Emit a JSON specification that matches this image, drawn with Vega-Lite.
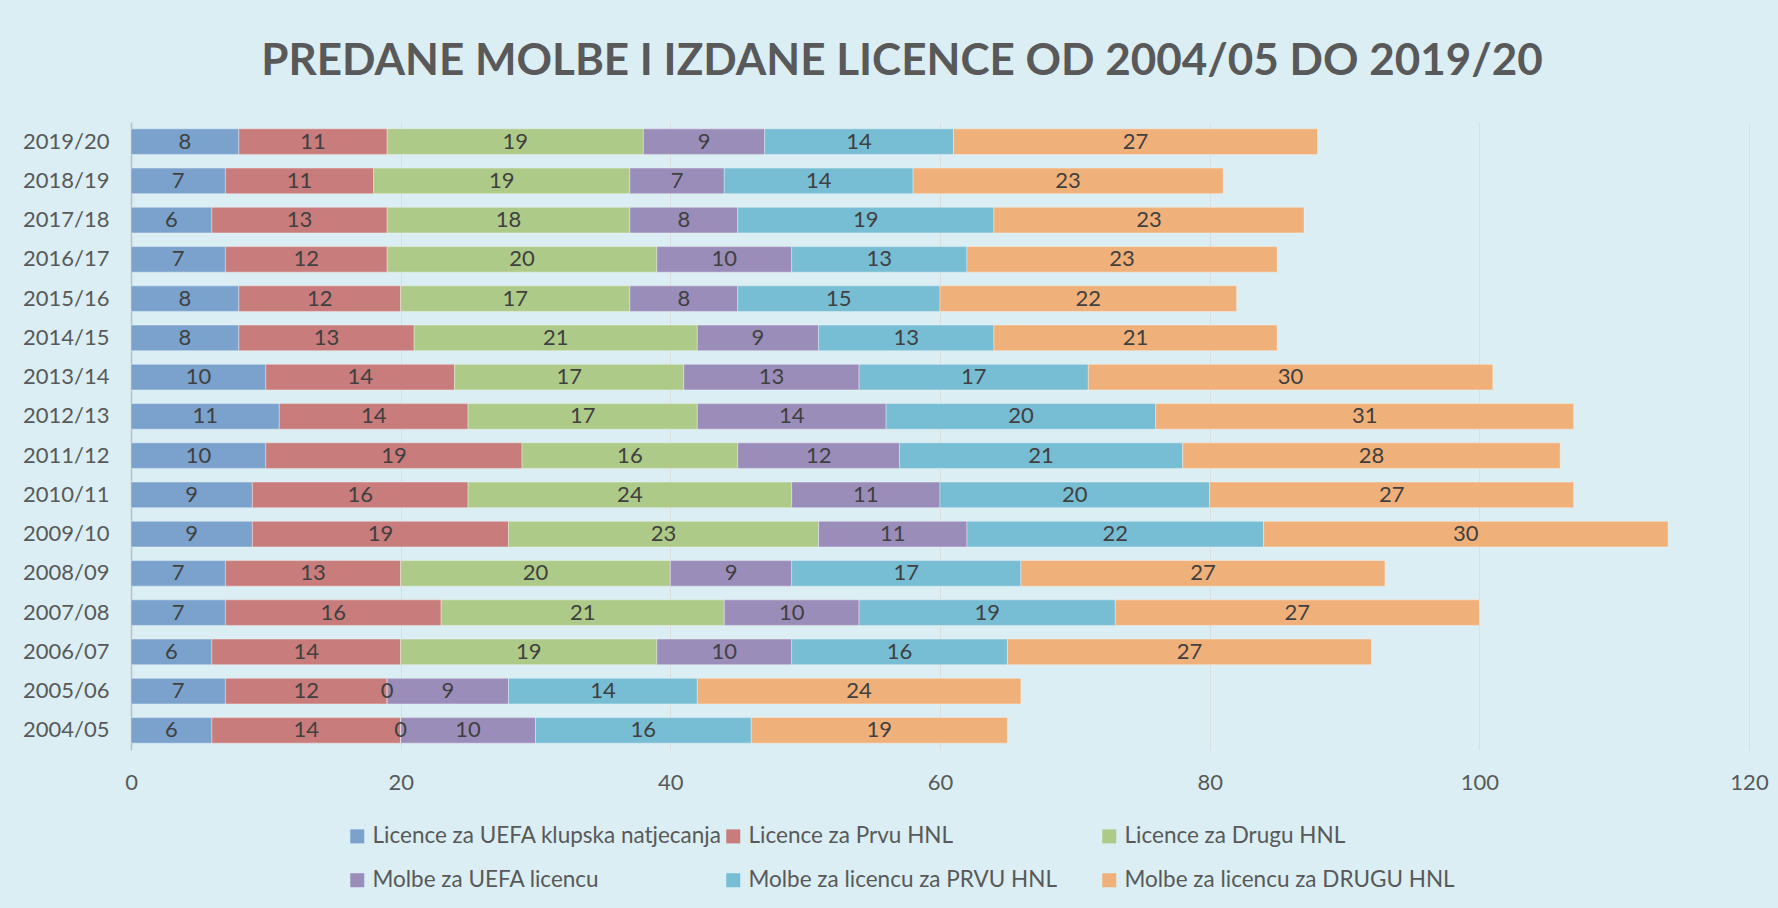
{
  "$schema": "https://vega.github.io/schema/vega-lite/v6.json",
  "autosize": "none",
  "width": 1618,
  "height": 628,
  "padding": {"left": 131, "top": 122, "right": 29, "bottom": 158},
  "background": "#DAEEF3",
  "config": {
    "view": {"stroke": null},
    "font": "Lato"
  },
  "title": {
    "text": "PREDANE MOLBE I IZDANE LICENCE OD 2004/05 DO 2019/20",
    "font": "Lato",
    "fontSize": 44,
    "fontWeight": "bold",
    "color": "#595959",
    "anchor": "middle",
    "dx": -38,
    "offset": 38
  },
  "data": {
    "values": [
      {"sezona": "2019/20", "serija": "Licence za UEFA klupska natjecanja", "broj": 8},
      {"sezona": "2019/20", "serija": "Licence za Prvu HNL", "broj": 11},
      {"sezona": "2019/20", "serija": "Licence za Drugu HNL", "broj": 19},
      {"sezona": "2019/20", "serija": "Molbe za UEFA licencu", "broj": 9},
      {"sezona": "2019/20", "serija": "Molbe za licencu za PRVU HNL", "broj": 14},
      {"sezona": "2019/20", "serija": "Molbe za licencu za DRUGU HNL", "broj": 27},
      {"sezona": "2018/19", "serija": "Licence za UEFA klupska natjecanja", "broj": 7},
      {"sezona": "2018/19", "serija": "Licence za Prvu HNL", "broj": 11},
      {"sezona": "2018/19", "serija": "Licence za Drugu HNL", "broj": 19},
      {"sezona": "2018/19", "serija": "Molbe za UEFA licencu", "broj": 7},
      {"sezona": "2018/19", "serija": "Molbe za licencu za PRVU HNL", "broj": 14},
      {"sezona": "2018/19", "serija": "Molbe za licencu za DRUGU HNL", "broj": 23},
      {"sezona": "2017/18", "serija": "Licence za UEFA klupska natjecanja", "broj": 6},
      {"sezona": "2017/18", "serija": "Licence za Prvu HNL", "broj": 13},
      {"sezona": "2017/18", "serija": "Licence za Drugu HNL", "broj": 18},
      {"sezona": "2017/18", "serija": "Molbe za UEFA licencu", "broj": 8},
      {"sezona": "2017/18", "serija": "Molbe za licencu za PRVU HNL", "broj": 19},
      {"sezona": "2017/18", "serija": "Molbe za licencu za DRUGU HNL", "broj": 23},
      {"sezona": "2016/17", "serija": "Licence za UEFA klupska natjecanja", "broj": 7},
      {"sezona": "2016/17", "serija": "Licence za Prvu HNL", "broj": 12},
      {"sezona": "2016/17", "serija": "Licence za Drugu HNL", "broj": 20},
      {"sezona": "2016/17", "serija": "Molbe za UEFA licencu", "broj": 10},
      {"sezona": "2016/17", "serija": "Molbe za licencu za PRVU HNL", "broj": 13},
      {"sezona": "2016/17", "serija": "Molbe za licencu za DRUGU HNL", "broj": 23},
      {"sezona": "2015/16", "serija": "Licence za UEFA klupska natjecanja", "broj": 8},
      {"sezona": "2015/16", "serija": "Licence za Prvu HNL", "broj": 12},
      {"sezona": "2015/16", "serija": "Licence za Drugu HNL", "broj": 17},
      {"sezona": "2015/16", "serija": "Molbe za UEFA licencu", "broj": 8},
      {"sezona": "2015/16", "serija": "Molbe za licencu za PRVU HNL", "broj": 15},
      {"sezona": "2015/16", "serija": "Molbe za licencu za DRUGU HNL", "broj": 22},
      {"sezona": "2014/15", "serija": "Licence za UEFA klupska natjecanja", "broj": 8},
      {"sezona": "2014/15", "serija": "Licence za Prvu HNL", "broj": 13},
      {"sezona": "2014/15", "serija": "Licence za Drugu HNL", "broj": 21},
      {"sezona": "2014/15", "serija": "Molbe za UEFA licencu", "broj": 9},
      {"sezona": "2014/15", "serija": "Molbe za licencu za PRVU HNL", "broj": 13},
      {"sezona": "2014/15", "serija": "Molbe za licencu za DRUGU HNL", "broj": 21},
      {"sezona": "2013/14", "serija": "Licence za UEFA klupska natjecanja", "broj": 10},
      {"sezona": "2013/14", "serija": "Licence za Prvu HNL", "broj": 14},
      {"sezona": "2013/14", "serija": "Licence za Drugu HNL", "broj": 17},
      {"sezona": "2013/14", "serija": "Molbe za UEFA licencu", "broj": 13},
      {"sezona": "2013/14", "serija": "Molbe za licencu za PRVU HNL", "broj": 17},
      {"sezona": "2013/14", "serija": "Molbe za licencu za DRUGU HNL", "broj": 30},
      {"sezona": "2012/13", "serija": "Licence za UEFA klupska natjecanja", "broj": 11},
      {"sezona": "2012/13", "serija": "Licence za Prvu HNL", "broj": 14},
      {"sezona": "2012/13", "serija": "Licence za Drugu HNL", "broj": 17},
      {"sezona": "2012/13", "serija": "Molbe za UEFA licencu", "broj": 14},
      {"sezona": "2012/13", "serija": "Molbe za licencu za PRVU HNL", "broj": 20},
      {"sezona": "2012/13", "serija": "Molbe za licencu za DRUGU HNL", "broj": 31},
      {"sezona": "2011/12", "serija": "Licence za UEFA klupska natjecanja", "broj": 10},
      {"sezona": "2011/12", "serija": "Licence za Prvu HNL", "broj": 19},
      {"sezona": "2011/12", "serija": "Licence za Drugu HNL", "broj": 16},
      {"sezona": "2011/12", "serija": "Molbe za UEFA licencu", "broj": 12},
      {"sezona": "2011/12", "serija": "Molbe za licencu za PRVU HNL", "broj": 21},
      {"sezona": "2011/12", "serija": "Molbe za licencu za DRUGU HNL", "broj": 28},
      {"sezona": "2010/11", "serija": "Licence za UEFA klupska natjecanja", "broj": 9},
      {"sezona": "2010/11", "serija": "Licence za Prvu HNL", "broj": 16},
      {"sezona": "2010/11", "serija": "Licence za Drugu HNL", "broj": 24},
      {"sezona": "2010/11", "serija": "Molbe za UEFA licencu", "broj": 11},
      {"sezona": "2010/11", "serija": "Molbe za licencu za PRVU HNL", "broj": 20},
      {"sezona": "2010/11", "serija": "Molbe za licencu za DRUGU HNL", "broj": 27},
      {"sezona": "2009/10", "serija": "Licence za UEFA klupska natjecanja", "broj": 9},
      {"sezona": "2009/10", "serija": "Licence za Prvu HNL", "broj": 19},
      {"sezona": "2009/10", "serija": "Licence za Drugu HNL", "broj": 23},
      {"sezona": "2009/10", "serija": "Molbe za UEFA licencu", "broj": 11},
      {"sezona": "2009/10", "serija": "Molbe za licencu za PRVU HNL", "broj": 22},
      {"sezona": "2009/10", "serija": "Molbe za licencu za DRUGU HNL", "broj": 30},
      {"sezona": "2008/09", "serija": "Licence za UEFA klupska natjecanja", "broj": 7},
      {"sezona": "2008/09", "serija": "Licence za Prvu HNL", "broj": 13},
      {"sezona": "2008/09", "serija": "Licence za Drugu HNL", "broj": 20},
      {"sezona": "2008/09", "serija": "Molbe za UEFA licencu", "broj": 9},
      {"sezona": "2008/09", "serija": "Molbe za licencu za PRVU HNL", "broj": 17},
      {"sezona": "2008/09", "serija": "Molbe za licencu za DRUGU HNL", "broj": 27},
      {"sezona": "2007/08", "serija": "Licence za UEFA klupska natjecanja", "broj": 7},
      {"sezona": "2007/08", "serija": "Licence za Prvu HNL", "broj": 16},
      {"sezona": "2007/08", "serija": "Licence za Drugu HNL", "broj": 21},
      {"sezona": "2007/08", "serija": "Molbe za UEFA licencu", "broj": 10},
      {"sezona": "2007/08", "serija": "Molbe za licencu za PRVU HNL", "broj": 19},
      {"sezona": "2007/08", "serija": "Molbe za licencu za DRUGU HNL", "broj": 27},
      {"sezona": "2006/07", "serija": "Licence za UEFA klupska natjecanja", "broj": 6},
      {"sezona": "2006/07", "serija": "Licence za Prvu HNL", "broj": 14},
      {"sezona": "2006/07", "serija": "Licence za Drugu HNL", "broj": 19},
      {"sezona": "2006/07", "serija": "Molbe za UEFA licencu", "broj": 10},
      {"sezona": "2006/07", "serija": "Molbe za licencu za PRVU HNL", "broj": 16},
      {"sezona": "2006/07", "serija": "Molbe za licencu za DRUGU HNL", "broj": 27},
      {"sezona": "2005/06", "serija": "Licence za UEFA klupska natjecanja", "broj": 7},
      {"sezona": "2005/06", "serija": "Licence za Prvu HNL", "broj": 12},
      {"sezona": "2005/06", "serija": "Licence za Drugu HNL", "broj": 0},
      {"sezona": "2005/06", "serija": "Molbe za UEFA licencu", "broj": 9},
      {"sezona": "2005/06", "serija": "Molbe za licencu za PRVU HNL", "broj": 14},
      {"sezona": "2005/06", "serija": "Molbe za licencu za DRUGU HNL", "broj": 24},
      {"sezona": "2004/05", "serija": "Licence za UEFA klupska natjecanja", "broj": 6},
      {"sezona": "2004/05", "serija": "Licence za Prvu HNL", "broj": 14},
      {"sezona": "2004/05", "serija": "Licence za Drugu HNL", "broj": 0},
      {"sezona": "2004/05", "serija": "Molbe za UEFA licencu", "broj": 10},
      {"sezona": "2004/05", "serija": "Molbe za licencu za PRVU HNL", "broj": 16},
      {"sezona": "2004/05", "serija": "Molbe za licencu za DRUGU HNL", "broj": 19}
    ]
  },
  "transform": [
    {"calculate": "indexof(['Licence za UEFA klupska natjecanja','Licence za Prvu HNL','Licence za Drugu HNL','Molbe za UEFA licencu','Molbe za licencu za PRVU HNL','Molbe za licencu za DRUGU HNL'], datum.serija)", "as": "redoslijed"},
    {"stack": "broj", "groupby": ["sezona"], "sort": [{"field": "redoslijed", "order": "ascending"}], "as": ["od", "do"]},
    {"calculate": "(datum.od + datum.do) / 2", "as": "sredina"}
  ],
  "encoding": {
    "y": {
      "field": "sezona",
      "type": "nominal",
      "sort": "descending",
      "scale": {"paddingInner": 0.35, "paddingOuter": 0.175},
      "axis": {
        "title": null,
        "ticks": false,
        "domainColor": "#BFBFBF",
        "domainWidth": 1.5,
        "labelFont": "Lato",
        "labelFontSize": 22,
        "labelColor": "#595959",
        "labelPadding": 22
      }
    }
  },
  "layer": [
    {
      "mark": {"type": "bar", "stroke": "#FFFFFF", "strokeOpacity": 0.35, "strokeWidth": 1},
      "encoding": {
        "x": {
          "field": "od",
          "type": "quantitative",
          "scale": {"domain": [0, 120]},
          "axis": {
            "title": null,
            "values": [0, 20, 40, 60, 80, 100, 120],
            "domain": false,
            "ticks": false,
            "grid": true,
            "gridColor": "#D9D9D9",
            "gridOpacity": 0.8,
            "labelFont": "Lato",
            "labelFontSize": 22,
            "labelColor": "#595959",
            "labelPadding": 22,
            "labelFlush": false
          }
        },
        "x2": {"field": "do"},
        "color": {
          "field": "serija",
          "type": "nominal",
          "scale": {
            "domain": ["Licence za UEFA klupska natjecanja", "Licence za Prvu HNL", "Licence za Drugu HNL", "Molbe za UEFA licencu", "Molbe za licencu za PRVU HNL", "Molbe za licencu za DRUGU HNL"],
            "range": ["#7AA2CD", "#C87C7B", "#AECA88", "#9B8DBA", "#77BDD3", "#F0B07A"]
          },
          "legend": {
            "title": null,
            "orient": "none",
            "direction": "horizontal",
            "columns": 3,
            "gridAlign": "all",
            "legendX": 215,
            "legendY": 703,
            "symbolType": "square",
            "symbolSize": 196,
            "symbolStrokeWidth": 0,
            "symbolOpacity": 1,
            "labelFont": "Lato",
            "labelFontSize": 22.5,
            "labelColor": "#595959",
            "labelOffset": 4,
            "labelLimit": 500,
            "columnPadding": -2,
            "rowPadding": 21
          }
        }
      }
    },
    {
      "mark": {"type": "text", "font": "Lato", "fontSize": 22, "color": "#404040", "baseline": "middle", "align": "center"},
      "encoding": {
        "x": {"field": "sredina", "type": "quantitative"},
        "text": {"field": "broj", "type": "quantitative"}
      }
    }
  ]
}
